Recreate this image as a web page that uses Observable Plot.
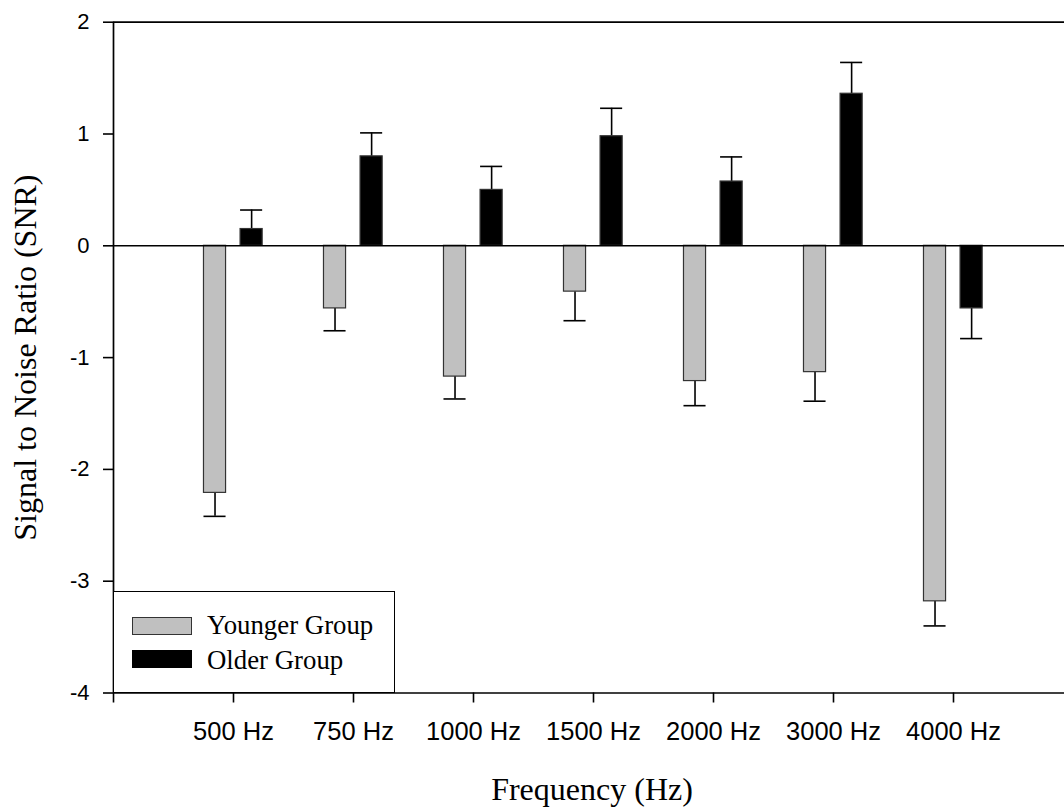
<!DOCTYPE html>
<html>
<head>
<meta charset="utf-8">
<script src="https://cdn.jsdelivr.net/npm/d3@7"></script>
<script src="https://cdn.jsdelivr.net/npm/@observablehq/plot@0.6"></script>
<style>
  html, body { margin: 0; padding: 0; background: #fff; }
  #wrap { position: relative; width: 1064px; height: 809px; }
  #legend-box { position: absolute; left: 113px; top: 591px; width: 282px; height: 102px;
    box-sizing: border-box; border: 1.5px solid #000; background: #fff; }
  .sw { position: absolute; left: 132px; width: 60px; height: 18px; box-sizing: border-box; border: 1.2px solid #333; }
  .lt { position: absolute; left: 207px; font-family: "Liberation Serif", "Times New Roman", serif;
    font-size: 26.8px; line-height: 26px; color: #000; white-space: nowrap; }
</style>
</head>
<body>
<div id="wrap"></div>
<script>
// ---- data ----
const frequencies = ["500 Hz", "750 Hz", "1000 Hz", "1500 Hz", "2000 Hz", "3000 Hz", "4000 Hz"];
const younger    = [-2.21, -0.56, -1.17, -0.41, -1.21, -1.13, -3.18];
const youngerErr = [0.21, 0.20, 0.20, 0.26, 0.22, 0.26, 0.22];
const older      = [0.15, 0.80, 0.50, 0.98, 0.575, 1.36, -0.56];
const olderErr   = [0.17, 0.21, 0.21, 0.25, 0.22, 0.28, 0.27];
const groups = ["Younger Group", "Older Group"];
const groupColors = ["#c0c0c0", "#000000"];
const yTicks = [-4, -3, -2, -1, 0, 1, 2];

// table built from the arrays
const rows = [];
frequencies.forEach((f, k) => {
  rows.push({i: k + 1, group: groups[0], value: younger[k], err: youngerErr[k]});
  rows.push({i: k + 1, group: groups[1], value: older[k], err: olderErr[k]});
});
const offset = {"Younger Group": -0.154, "Older Group": 0.151};
const half = 0.092;
const cx = d => d.i + offset[d.group];
const tip = d => d.value + Math.sign(d.value) * d.err;

const W = 1064, H = 809;
const chart = Plot.plot({
  width: W,
  height: H,
  marginLeft: 113,
  marginRight: 0,
  marginTop: 21.7,
  marginBottom: H - 692.5,
  x: {type: "linear", domain: [0, (W - 113) / 120]},
  y: {domain: [-4, 2]},
  color: {domain: groups, range: groupColors},
  marks: [
    Plot.axisY({ticks: yTicks, tickSize: 10, tickPadding: 14, tickFormat: d => String(d),
      fontSize: 22, fontFamily: "Liberation Sans, Arial, sans-serif", strokeWidth: 1.6, label: null}),
    Plot.axisX({ticks: d3.range(0, frequencies.length + 1), tickSize: 10, tickPadding: 19,
      tickFormat: d => d === 0 ? "" : frequencies[d - 1],
      fontSize: 25.5, fontFamily: "Liberation Sans, Arial, sans-serif", strokeWidth: 1.6, label: null}),
    Plot.ruleY([2, -4], {stroke: "#000", strokeWidth: 1.7}),
    Plot.ruleX([0], {stroke: "#000", strokeWidth: 1.7}),
    Plot.ruleX(rows, {x: cx, y1: "value", y2: tip, stroke: "#000", strokeWidth: 1.6}),
    Plot.ruleY(rows, {y: tip, x1: d => cx(d) - half, x2: d => cx(d) + half, stroke: "#000", strokeWidth: 1.6}),
    Plot.rectY(rows, {x1: d => cx(d) - half, x2: d => cx(d) + half, y1: 0, y2: "value",
      fill: "group", stroke: "#333", strokeWidth: 1.2}),
    Plot.ruleY([0], {stroke: "#000", strokeWidth: 1.5}),
    Plot.text(["Signal to Noise Ratio (SNR)"], {frameAnchor: "left", dx: -100, rotate: -90,
      textAnchor: "middle", lineAnchor: "top", fontSize: 32,
      fontFamily: "Liberation Serif, Times New Roman, serif", fill: "#000"}),
    Plot.text(["Frequency (Hz)"], {frameAnchor: "bottom", dx: 3, dy: 84.5, lineAnchor: "top",
      fontSize: 32, fontFamily: "Liberation Serif, Times New Roman, serif", fill: "#000"})
  ]
});
const wrap = document.getElementById("wrap");
wrap.appendChild(chart);

// legend (inside the plot area, lower left)
const box = document.createElement("div");
box.id = "legend-box";
wrap.appendChild(box);
const legendTops = [616.5, 650];
const textTops = [612, 647];
groups.forEach((g, k) => {
  const sw = document.createElement("div");
  sw.className = "sw";
  sw.style.top = legendTops[k] + "px";
  sw.style.background = groupColors[k];
  if (k === 1) sw.style.borderColor = "#000";
  wrap.appendChild(sw);
  const t = document.createElement("div");
  t.className = "lt";
  t.style.top = textTops[k] + "px";
  t.textContent = g;
  wrap.appendChild(t);
});
</script>
</body>
</html>
